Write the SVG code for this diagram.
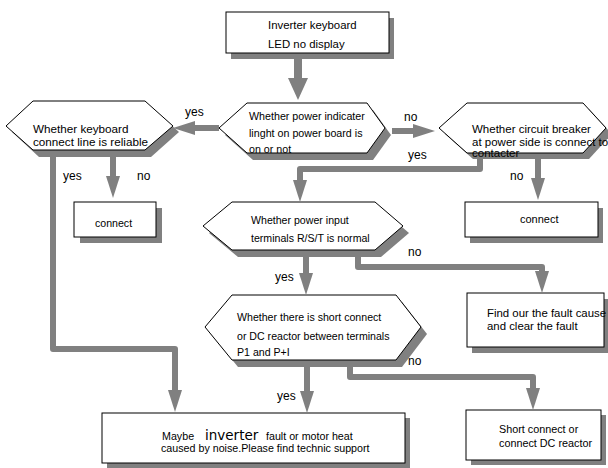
<svg xmlns="http://www.w3.org/2000/svg" width="608" height="468" viewBox="0 0 608 468">
<style>
.sh{fill:#808080;stroke:none}
.nd{fill:#fff;stroke:#000;stroke-width:1}
.t{font-family:"Liberation Sans",Arial,sans-serif;font-size:11px;fill:#000}
.lb{font-family:"Liberation Sans",Arial,sans-serif;font-size:12px;fill:#000}
.big{font-family:"DejaVu Sans",Verdana,sans-serif;font-size:13.5px}
.c{fill:none;stroke:#808080;stroke-width:6;stroke-linejoin:round;marker-end:url(#ah)}
</style>
<defs>
<marker id="ah" markerUnits="userSpaceOnUse" viewBox="0 -7 22 14" refX="0" refY="0" markerWidth="22" markerHeight="14" orient="auto">
<path d="M0,-7 L22,0 L0,7 z" fill="#808080"/>
</marker>
<marker id="ahb" markerUnits="userSpaceOnUse" viewBox="0 -10 22 20" refX="0" refY="0" markerWidth="22" markerHeight="20" orient="auto">
<path d="M0,-10 L22,0 L0,10 z" fill="#808080"/>
</marker>
<polygon id="hx1" points="219,128 247,103 367,103 385,128 367,153 247,153"/>
</defs>

<g id="node-start">
<rect class="sh" x="231" y="18" width="163" height="41"/>
<rect class="nd" x="226" y="12" width="163" height="41"/>
<text class="t" style="font-size:11.4px" x="268" y="29">Inverter keyboard</text>
<text class="t" style="font-size:11.4px" x="268" y="48">LED no display</text>
</g>

<g id="node-power-indicator">
<polygon class="sh" points="225,135 253,110 373,110 391,135 373,160 253,160"/>
<polygon class="nd" points="219,128 247,103 367,103 385,128 367,153 247,153"/>
<text class="t" style="font-size:10.7px" x="249" y="120">Whether power indicater</text>
<text class="t" style="font-size:10.7px" x="249" y="137">linght on power board is</text>
<text class="t" style="font-size:10.7px" x="249" y="153">on or not</text>
</g>

<g id="node-keyboard">
<polygon class="sh" points="12,132 39,107 151,107 179,132 151,157 39,157"/>
<polygon class="nd" points="6,126 33,101 145,101 173,126 145,150 33,150"/>
<text class="t" style="font-size:11.7px" x="33" y="133">Whether keyboard</text>
<text class="t" style="font-size:11.7px" x="33" y="146">connect line is reliable</text>
</g>

<g id="node-breaker">
<polygon class="sh" points="445,134 473,109 589,109 612,134 589,159 473,159"/>
<polygon class="nd" points="439,128 467,103 583,103 606,128 583,153 467,153"/>
<text class="t" style="font-size:11.5px" x="472" y="133">Whether circuit breaker</text>
<text class="t" style="font-size:11.5px" x="472" y="146">at power side is connect to</text>
<text class="t" style="font-size:11.5px" x="472" y="157">contacter</text>
</g>

<g id="node-connect-left">
<rect class="sh" x="80" y="208" width="82" height="35"/>
<rect class="nd" x="74" y="202" width="82" height="35"/>
<text class="t" style="font-size:10.6px" x="95" y="227">connect</text>
</g>

<g id="node-connect-right">
<rect class="sh" x="470" y="208" width="133" height="35"/>
<rect class="nd" x="465" y="202" width="133" height="35"/>
<text class="t" x="520" y="223">connect</text>
</g>

<g id="node-power-input">
<polygon class="sh" points="209,233 238,209 381,209 409,233 381,257 238,257"/>
<polygon class="nd" points="203,226 232,202 375,202 403,226 375,250 232,250"/>
<text class="t" style="font-size:10.6px" x="251" y="224">Whether power input</text>
<text class="t" style="font-size:10.6px" x="251" y="242">terminals R/S/T is normal</text>
</g>

<g id="node-find">
<rect class="sh" x="472" y="299" width="137" height="54"/>
<rect class="nd" x="467" y="293" width="137" height="54"/>
<text class="t" style="font-size:11.4px" x="487" y="317">Find our the fault cause</text>
<text class="t" style="font-size:11.4px" x="487" y="330">and clear the fault</text>
</g>

<g id="node-short">
<polygon class="sh" points="211,334 238,302 402,302 427,334 402,367 238,367"/>
<polygon class="nd" points="205,327 232,295 396,295 421,327 396,360 232,360"/>
<text class="t" style="font-size:10.6px" x="237" y="321">Whether there is short connect</text>
<text class="t" style="font-size:10.6px" x="237" y="340">or DC reactor between terminals</text>
<text class="t" style="font-size:10.6px" x="237" y="356">P1 and P+I</text>
</g>

<g id="node-maybe">
<rect class="sh" x="107" y="418" width="303" height="50"/>
<rect class="nd" x="102" y="413" width="303" height="50"/>
<text class="t" style="font-size:10.7px" x="162" y="440">Maybe <tspan class="big" x="205">inverter</tspan><tspan x="266">fault or motor heat</tspan></text>
<text class="t" style="font-size:10.7px" x="161" y="452">caused by noise.Please find technic support</text>
</g>

<g id="node-short-box">
<rect class="sh" x="471" y="415" width="135" height="50"/>
<rect class="nd" x="466" y="410" width="135" height="50"/>
<text class="t" style="font-size:10.8px" x="499" y="433">Short connect or</text>
<text class="t" style="font-size:10.8px" x="499" y="447">connect DC reactor</text>
</g>

<g id="connectors">
<path class="c" style="stroke-width:8;marker-end:url(#ahb)" d="M298,59 V78"/>
<path class="c" d="M219,128 H195"/>
<path class="c" d="M392,131 H413"/>
<path class="c" d="M480,159 V169 H300 V180"/>
<path class="c" d="M538,159 V178"/>
<path class="c" d="M113,157 V176"/>
<path class="c" d="M53,157 V349 H175 V390"/>
<path class="c" d="M358,257 V267 H542 V271"/>
<path class="c" d="M306,257 V273"/>
<path class="c" d="M350,367 V377 H533 V388"/>
<path class="c" d="M307,367 V391"/>
</g>

<g id="labels">
<text class="lb" x="185" y="116">yes</text>
<text class="lb" x="404" y="121">no</text>
<text class="lb" x="408" y="159">yes</text>
<text class="lb" x="510" y="180">no</text>
<text class="lb" x="63" y="180">yes</text>
<text class="lb" x="137" y="180">no</text>
<text class="lb" x="408" y="256">no</text>
<text class="lb" x="275" y="281">yes</text>
<text class="lb" x="408" y="365">no</text>
<text class="lb" x="277" y="400">yes</text>
</g>
</svg>
